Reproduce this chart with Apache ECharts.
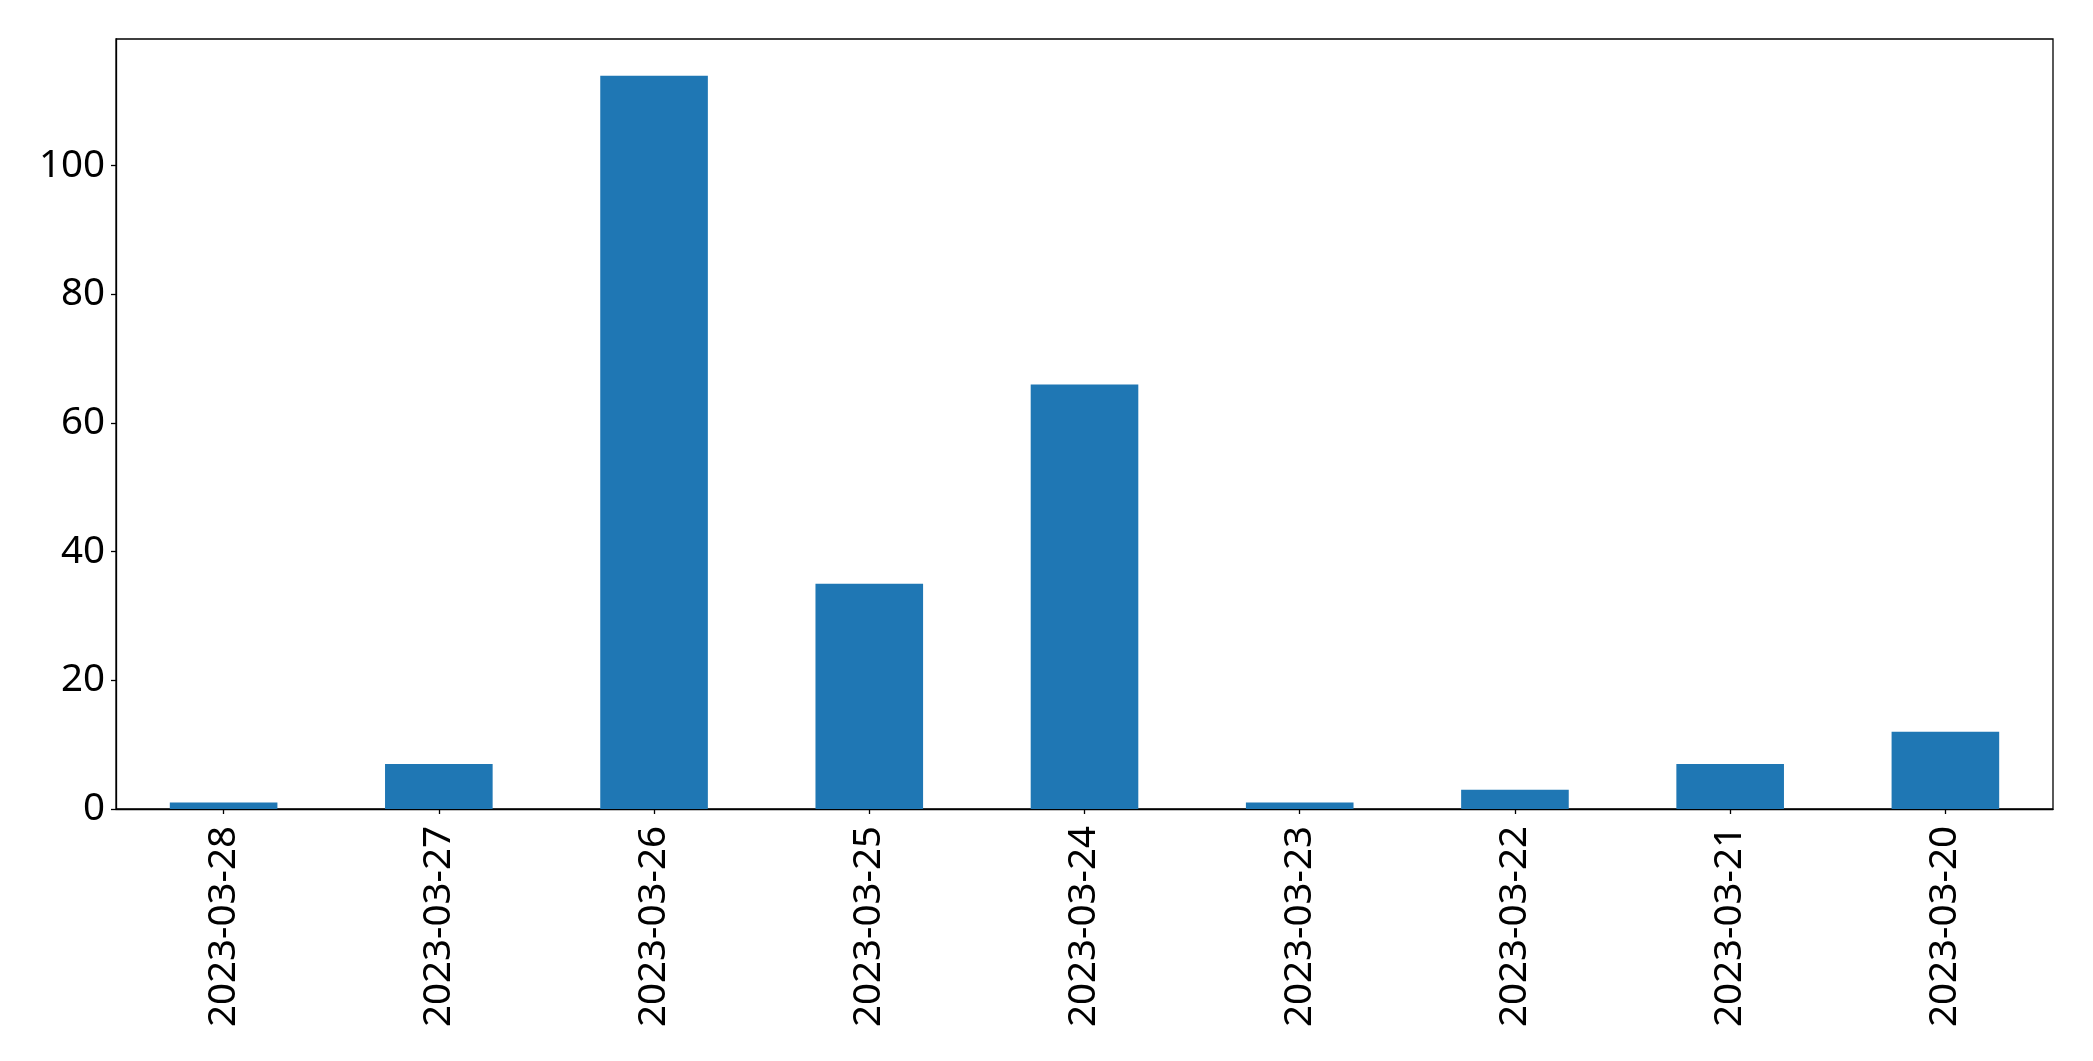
<!DOCTYPE html>
<html>
<head>
<meta charset="utf-8">
<script src="https://cdn.jsdelivr.net/npm/echarts@6/dist/echarts.min.js"></script>
<style>
html,body{margin:0;padding:0;background:#fff;}
#chart{width:2093px;height:1061px;}
</style>
</head>
<body>
<div id="chart"></div>
<script>
const categories = ["2023-03-28","2023-03-27","2023-03-26","2023-03-25","2023-03-24","2023-03-23","2023-03-22","2023-03-21","2023-03-20"];
const values = [1, 7, 114, 35, 66, 1, 3, 7, 12];
const yMax = 119.7;

const chart = echarts.init(document.getElementById('chart'), null, {renderer:'canvas'});
const font = 'Noto Sans';
chart.setOption({
  animation: false,
  backgroundColor: '#fff',
  grid: {left:116, right:40, top:39, bottom:252, show:true, borderColor:'#000', borderWidth:1.3, backgroundColor:'transparent'},
  xAxis: {
    type:'category',
    data: categories,
    boundaryGap: true,
    axisLine:{show:true, lineStyle:{color:'#000', width:1.3}},
    axisTick:{show:true, alignWithLabel:true, length:5, lineStyle:{color:'#000', width:1.3}},
    axisLabel:{rotate:90, margin:17, fontSize:38.5, color:'#000', fontFamily:font, interval:0}
  },
  yAxis: {
    type:'value',
    min:0, max:yMax, interval:20,
    splitLine:{show:false},
    axisLine:{show:true, lineStyle:{color:'#000', width:1.3}},
    axisTick:{show:true, length:5, lineStyle:{color:'#000', width:1.3}},
    axisLabel:{showMaxLabel:false, margin:11, fontSize:38.5, color:'#000', fontFamily:font}
  },
  series: [{
    type:'bar',
    data: values,
    barWidth:'50%',
    itemStyle:{color:'#1f77b4'}
  }]
});
</script>
</body>
</html>
